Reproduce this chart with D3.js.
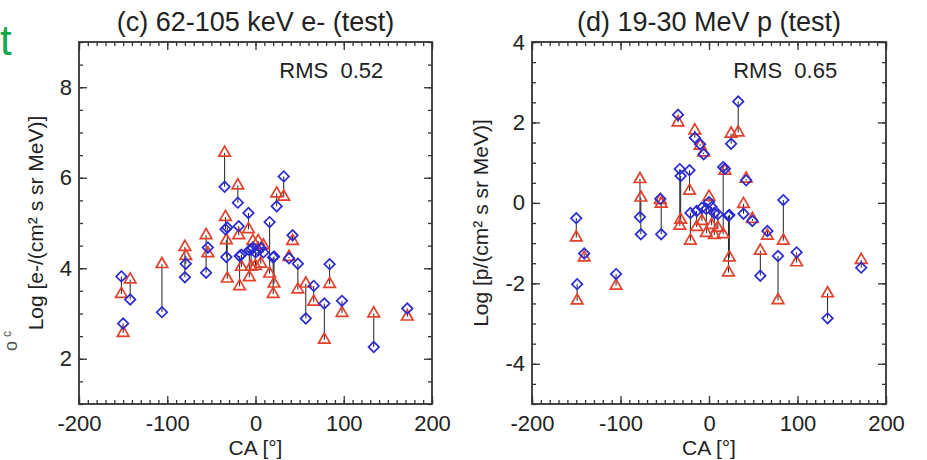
<!DOCTYPE html>
<html>
<head>
<meta charset="utf-8">
<script src="https://cdn.jsdelivr.net/npm/d3@7"></script>
<style>
	body { margin: 0; background: #fff; }
	svg text { font-family: "Liberation Sans", Arial, sans-serif; fill: #222; }
</style>
</head>
<body>
<div id="chart-area"></div>
<script>
// SVG Size
let width = 927,
	height = 460;

// panel (c) 62-105 keV e-: CA, red triangles, blue diamonds (pairs joined by a line)
let caC  = [-152, -150, -142, -106, -80, -79, -56, -54, -35, -34, -33, -32, -20, -19, -18, -16, -8, -7, -5, -3, 0, 3, 6, 9, 16, 20, 21, 24, 32, 38, 42, 48, 57, 66, 78, 84, 98, 134, 172];
let triC = [3.43, 2.57, 3.75, 4.09, 4.47, 4.27, 4.73, 4.33, 6.55, 5.13, 4.62, 3.77, 5.83, 4.73, 3.60, 4.03, 4.86, 3.80, 4.03, 4.60, 4.05, 4.60, 4.10, 4.50, 3.88, 3.43, 3.66, 5.65, 5.58, 4.25, 4.60, 3.53, 3.66, 3.26, 2.42, 3.65, 3.01, 3.00, 2.93];
let diaC = [3.82, 2.78, 3.31, 3.03, 3.80, 4.10, 3.90, 4.46, 5.80, 4.86, 4.25, 4.90, 5.45, 4.93, 4.27, 4.30, 5.22, 4.40, 4.42, 4.45, 4.35, 4.40, 4.45, 4.35, 5.02, 4.24, 4.26, 5.37, 6.03, 4.22, 4.73, 4.10, 2.89, 3.61, 3.22, 4.09, 3.28, 2.26, 3.11];

// panel (d) 19-30 MeV p
let caD  = [-150, -149, -141, -105, -78, -77, -55, -54, -35, -33, -32, -22, -21, -16, -14, -10, -8, -6, -3, 0, 3, 6, 10, 16, 18, 22, 23, 25, 33, 39, 42, 49, 58, 66, 78, 84, 99, 134, 172];
let triD = [-0.86, -2.43, -1.36, -2.06, 0.59, 0.13, 0.07, -0.02, 2.00, -0.57, -0.42, 0.30, -0.94, 1.80, -0.60, 1.42, -0.45, 1.25, -0.75, 0.15, -0.55, -0.80, -0.62, -0.78, 0.80, -1.73, -1.36, 1.72, 1.75, -0.03, 0.60, -0.40, -1.19, -0.82, -2.42, -0.94, -1.48, -2.25, -1.42];
let diaD = [-0.38, -2.02, -1.26, -1.77, -0.35, -0.78, 0.10, -0.78, 2.19, 0.84, 0.67, 0.81, -0.25, 1.62, -0.20, 1.46, -0.12, 1.21, -0.15, 0.02, -0.10, -0.25, -0.28, 0.89, 0.85, -0.32, -0.30, 1.47, 2.52, -0.27, 0.56, -0.45, -1.81, -0.70, -1.32, 0.07, -1.23, -2.87, -1.61];

// axes
let xTicks  = [-200, -100, 0, 100, 200];
let yTicksC = [2, 4, 6, 8];
let yTicksD = [-4, -2, 0, 2, 4];

let titleC = "(c) 62-105 keV e- (test)";
let titleD = "(d) 19-30 MeV p (test)";
let rmsC = "RMS  0.52";
let rmsD = "RMS  0.65";
let yLabelC = "Log [e-/(cm² s sr MeV)]";
let yLabelD = "Log [p/(cm² s sr MeV)]";

let svg = d3.select("#chart-area")
	.append("svg")
	.attr("width", width)
	.attr("height", height);

// cut-off bits of the neighbouring panel
svg.append("text")
	.attr("x", 0)
	.attr("y", 55)
	.style("font-size", "42px")
	.style("fill", "#12a84e")
	.text("t");

svg.append("text")
	.attr("transform", "translate(17,351) rotate(-90)")
	.style("font-size", "18px")
	.style("fill", "#555")
	.text("o");

svg.append("text")
	.attr("transform", "translate(11,337) rotate(-90)")
	.style("font-size", "12px")
	.style("fill", "#555")
	.text("c");

drawPanel({
	left: 79, right: 432, top: 42, bottom: 404,
	yDomain: [1, 9], yTicks: yTicksC,
	ca: caC, tri: triC, dia: diaC,
	title: titleC, rms: rmsC, yLabel: yLabelC, yLabelX: 43
});

drawPanel({
	left: 532, right: 886, top: 42, bottom: 404,
	yDomain: [-5, 4], yTicks: yTicksD,
	ca: caD, tri: triD, dia: diaD,
	title: titleD, rms: rmsD, yLabel: yLabelD, yLabelX: 488
});

function drawPanel(p) {
	let g = svg.append("g");

	let x = d3.scaleLinear()
		.domain([-200, 200])
		.range([p.left, p.right]);

	let y = d3.scaleLinear()
		.domain(p.yDomain)
		.range([p.bottom, p.top]);

	let xMinor = d3.range(-200, 200.1, 10);
	let yMinor = d3.range(p.yDomain[0], p.yDomain[1] + 0.01, 0.5);

	// minor ticks on all four sides (inward)
	g.append("g").attr("class", "axis")
		.attr("transform", "translate(0," + p.bottom + ")")
		.call(d3.axisBottom(x).tickValues(xMinor).tickSize(-4).tickFormat(""));
	g.append("g").attr("class", "axis")
		.attr("transform", "translate(0," + p.top + ")")
		.call(d3.axisTop(x).tickValues(xMinor).tickSize(-4).tickFormat(""));
	g.append("g").attr("class", "axis")
		.attr("transform", "translate(" + p.left + ",0)")
		.call(d3.axisLeft(y).tickValues(yMinor).tickSize(-4).tickFormat(""));
	g.append("g").attr("class", "axis")
		.attr("transform", "translate(" + p.right + ",0)")
		.call(d3.axisRight(y).tickValues(yMinor).tickSize(-4).tickFormat(""));

	// major ticks with labels (plain hyphen as in the original)
	g.append("g").attr("class", "axis major")
		.attr("transform", "translate(0," + p.bottom + ")")
		.call(d3.axisBottom(x).tickValues(xTicks).tickSize(-8).tickPadding(11).tickFormat(d => String(d)));
	g.append("g").attr("class", "axis")
		.attr("transform", "translate(0," + p.top + ")")
		.call(d3.axisTop(x).tickValues(xTicks).tickSize(-8).tickFormat(""));
	g.append("g").attr("class", "axis major")
		.attr("transform", "translate(" + p.left + ",0)")
		.call(d3.axisLeft(y).tickValues(p.yTicks).tickSize(-8).tickPadding(7).tickFormat(d => String(d)));
	g.append("g").attr("class", "axis")
		.attr("transform", "translate(" + p.right + ",0)")
		.call(d3.axisRight(y).tickValues(p.yTicks).tickSize(-8).tickFormat(""));

	g.selectAll(".axis path").remove();
	g.selectAll(".axis line").attr("stroke", "#333").attr("stroke-width", 1.3);
	g.selectAll(".major text").style("font-size", "22px").style("font-family", "\"Liberation Sans\", Arial, sans-serif").attr("fill", "#222");

	// frame
	g.append("rect")
		.attr("x", p.left)
		.attr("y", p.top)
		.attr("width", p.right - p.left)
		.attr("height", p.bottom - p.top)
		.attr("fill", "none")
		.attr("stroke", "#333")
		.attr("stroke-width", 1.8);

	let data = p.ca.map((c, i) => ({ ca: c, tri: p.tri[i], dia: p.dia[i] }));

	// joining lines
	g.selectAll(".link")
		.data(data)
		.enter()
		.append("line")
		.attr("x1", d => x(d.ca))
		.attr("x2", d => x(d.ca))
		.attr("y1", d => y(d.tri))
		.attr("y2", d => y(d.dia))
		.attr("stroke", "#222")
		.attr("stroke-width", 1);

	// red triangles
	g.selectAll(".tri")
		.data(data)
		.enter()
		.append("path")
		.attr("d", d3.symbol(d3.symbolTriangle, 58))
		.attr("transform", d => "translate(" + x(d.ca) + "," + y(d.tri) + ")")
		.attr("fill", "none")
		.attr("stroke", "#e2402a")
		.attr("stroke-width", 1.7);

	// blue diamonds
	g.selectAll(".dia")
		.data(data)
		.enter()
		.append("path")
		.attr("d", d3.symbol(d3.symbolSquare, 55))
		.attr("transform", d => "translate(" + x(d.ca) + "," + y(d.dia) + ") rotate(45)")
		.attr("fill", "none")
		.attr("stroke", "#2a2ad2")
		.attr("stroke-width", 1.7);

	// texts
	g.append("text")
		.attr("x", (p.left + p.right) / 2)
		.attr("y", 31)
		.attr("text-anchor", "middle")
		.style("font-size", "27px")
		.text(p.title);

	g.append("text")
		.attr("x", p.left + (p.right - p.left) * 0.862)
		.attr("y", 78)
		.attr("text-anchor", "end")
		.style("font-size", "22px")
		.style("white-space", "pre")
		.text(p.rms);

	g.append("text")
		.attr("x", (p.left + p.right) / 2)
		.attr("y", 455)
		.attr("text-anchor", "middle")
		.style("font-size", "21px")
		.text("CA [°]");

	g.append("text")
		.attr("transform", "translate(" + p.yLabelX + "," + ((p.top + p.bottom) / 2) + ") rotate(-90)")
		.attr("text-anchor", "middle")
		.style("font-size", "21px")
		.text(p.yLabel);
}
</script>
</body>
</html>
